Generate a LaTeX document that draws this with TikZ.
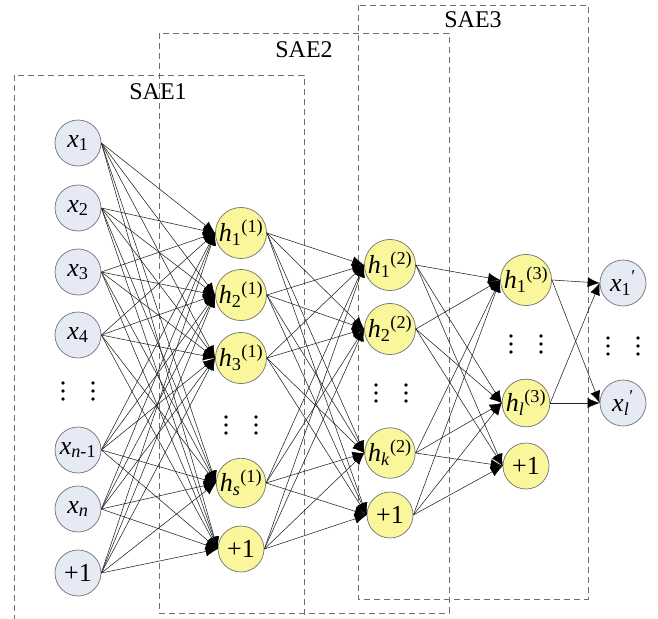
\documentclass[tikz,border=0pt]{standalone}
\usepackage{fontspec}
\setmainfont{Liberation Serif}
\usetikzlibrary{arrows.meta}
\definecolor{inblue}{RGB}{230,234,245}
\definecolor{hidyel}{RGB}{250,246,155}
\definecolor{nodeedge}{RGB}{115,115,115}
\definecolor{boxgray}{RGB}{110,110,110}
\definecolor{wire}{RGB}{35,35,35}
\tikzset{
  unit/.style={circle, minimum size=46pt, inner sep=0pt, draw=nodeedge, line width=0.7pt,
               font=\fontsize{26}{28}\selectfont},
  inunit/.style={unit, fill=inblue},
  hidunit/.style={unit, fill=hidyel},
  conn/.style={draw=wire, line width=0.55pt, -{Latex[length=12pt,width=10pt,black]}},
  saebox/.style={draw=boxgray, line width=0.8pt, dash pattern=on 6pt off 4pt},
  saelabel/.style={anchor=base, inner sep=0pt, font=\fontsize{24}{27}\selectfont},
  dotmark/.style={fill=black}
}
\newcommand{\vdotsat}[2]{%
  \fill[dotmark] (#1,#2-8) circle (1.8pt);
  \fill[dotmark] (#1,#2) circle (1.8pt);
  \fill[dotmark] (#1,#2+8) circle (1.8pt);}
\newcommand{\dotpair}[2]{\vdotsat{#1-15}{#2}\vdotsat{#1+15}{#2}}
\begin{document}
\begin{tikzpicture}[x=1pt,y=-1pt]
\clip (0,0) rectangle (658,618);
\fill[white] (0,0) rectangle (658,618);

% stacked autoencoder frames
\draw[saebox] (14,75) rectangle (304,640);
\draw[saebox] (159,33) rectangle (449,613);
\draw[saebox] (358,5) rectangle (588,599);
\node[saelabel] (lab1) at (158,99) {SAE1};
\node[saelabel] (lab2) at (304,58) {SAE2};
\node[saelabel] (lab3) at (473,28) {SAE3};

% input layer
\node[inunit] (x1) at (78,143) {\textit{x}\textsubscript{1}};
\node[inunit] (x2) at (78,208) {\textit{x}\textsubscript{2}};
\node[inunit] (x3) at (78,272) {\textit{x}\textsubscript{3}};
\node[inunit] (x4) at (78,335) {\textit{x}\textsubscript{4}};
\node[inunit] (xn1) at (78,450) {\textit{x}\textsubscript{\textit{n}-1}};
\node[inunit] (xn) at (78,509) {\textit{x}\textsubscript{\textit{n}}};
\node[inunit] (xb) at (78,573) {+1};

% first hidden layer
\node[hidunit] (a1) at (241,233) {\textit{h}\textsubscript{1}\textsuperscript{(1)}};
\node[hidunit] (a2) at (241,295) {\textit{h}\textsubscript{2}\textsuperscript{(1)}};
\node[hidunit] (a3) at (241,358) {\textit{h}\textsubscript{3}\textsuperscript{(1)}};
\node[hidunit] (as) at (241,483) {\textit{h}\textsubscript{\textit{s}}\textsuperscript{(1)}};
\node[hidunit] (ab) at (241,549) {+1};

% second hidden layer
\node[hidunit] (b1) at (390,265) {\textit{h}\textsubscript{1}\textsuperscript{(2)}};
\node[hidunit] (b2) at (390,329) {\textit{h}\textsubscript{2}\textsuperscript{(2)}};
\node[hidunit] (bk) at (390,453) {\textit{h}\textsubscript{\textit{k}}\textsuperscript{(2)}};
\node[hidunit] (bb) at (390,515) {+1};

% third hidden layer
\node[hidunit] (c1) at (526,280) {\textit{h}\textsubscript{1}\textsuperscript{(3)}};
\node[hidunit] (cl) at (526,403) {\textit{h}\textsubscript{\textit{l}}\textsuperscript{(3)}};
\node[hidunit] (cb) at (526,466) {+1};

% reconstruction layer
\node[inunit] (y1) at (623,283) {\textit{x}\textsubscript{1}\textsuperscript{\char"2032}};
\node[inunit] (yl) at (623,403) {\textit{x}\textsubscript{\textit{l}}\textsuperscript{\char"2032}};

% weights
\foreach \s in {x1,x2,x3,x4,xn1,xn,xb}
  \foreach \t in {a1,a2,a3,as,ab}
    \draw[conn] (\s.east) -- (\t.west);
\foreach \s in {a1,a2,a3,as,ab}
  \foreach \t in {b1,b2,bk,bb}
    \draw[conn] (\s.east) -- (\t.west);
\foreach \s in {b1,b2,bk,bb}
  \foreach \t in {c1,cl,cb}
    \draw[conn] (\s.east) -- (\t.west);
\foreach \s in {c1,cl}
  \foreach \t in {y1,yl}
    \draw[conn] (\s.east) -- (\t.west);

% elided units
\dotpair{78}{391}
\dotpair{241}{425}
\dotpair{391}{393}
\dotpair{526}{344}
\dotpair{623}{346}
\end{tikzpicture}
\end{document}
